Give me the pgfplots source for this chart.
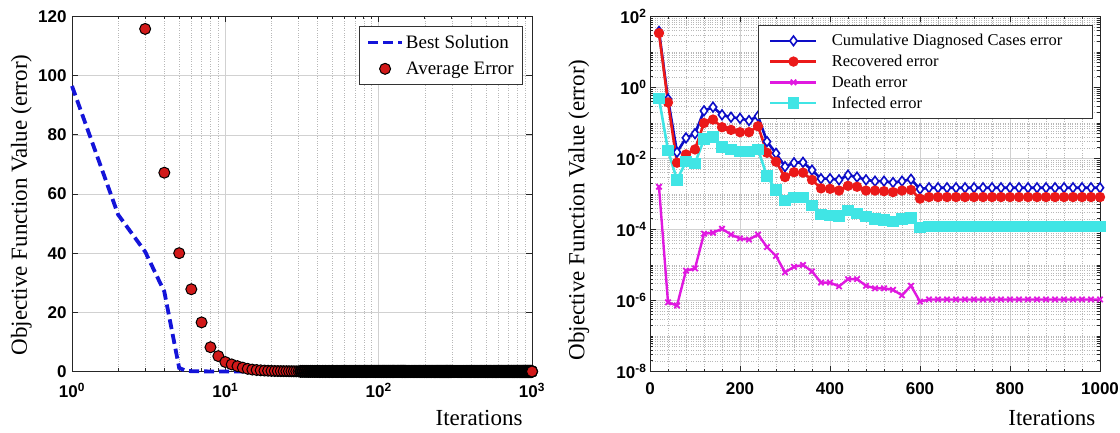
\documentclass[border=0pt]{standalone}
\usepackage{fontspec}
\setmainfont{Liberation Serif}
\newfontfamily\tickfont{Liberation Sans}
\usepackage{pgfplots}
\pgfplotsset{compat=1.18}
\definecolor{lblue}{rgb}{0.08,0.08,0.85}
\definecolor{ldot}{rgb}{0.82,0.1,0.1}
\definecolor{rblue}{rgb}{0.05,0.05,0.78}
\definecolor{rred}{rgb}{0.92,0.1,0.1}
\definecolor{rmag}{rgb}{0.88,0.1,0.88}
\definecolor{rcyan}{rgb}{0.25,0.9,0.9}
\pgfplotsset{
  common/.style={
    scale only axis, anchor=south west, clip=false, scaled ticks=false,
    axis line style={black!85, line width=0.8pt},
    tick style={black!85, line width=0.8pt},
    major tick length=6pt, minor tick length=3pt,
    tick align=inside,
    ticklabel style={font=\tickfont\bfseries\fontsize{17}{17}\selectfont},
    xticklabel style={yshift=-8pt},
    label style={font=\fontsize{23}{26}\selectfont},
    grid=both,
    major grid style={black!18, line width=0.6pt},
    minor grid style={black!28, dotted, line width=0.6pt},
    legend cell align=left,
  }
}
\begin{document}
\begin{tikzpicture}
\path[use as bounding box] (0pt,0pt) rectangle (1120pt,433pt);
\begin{axis}[common, at={(72pt,61.5pt)}, width=460pt, height=355pt,
  xmode=log, xmin=1, xmax=1000, ymin=0, ymax=120,
  xtick={1,10,100,1000},
  xticklabels={10\textsuperscript{0},10\textsuperscript{1},10\textsuperscript{2},10\textsuperscript{3}},
  minor xtick={2,3,4,5,6,7,8,9,20,30,40,50,60,70,80,90,200,300,400,500,600,700,800,900},
  ytick={0,20,40,60,80,100,120},
  yticklabels={0,20,40,60,80,100,120},
  yticklabel style={xshift=-2pt},
  xlabel={Iterations}, ylabel={Objective Function Value (error)},
  xlabel style={at={(axis description cs:0.885,-0.13)}, anchor=center},
  ylabel style={at={(axis description cs:-0.11,0.469)}, anchor=center},
  legend style={at={(0.9807,0.9739)}, anchor=north east, font=\fontsize{19}{22}\selectfont,
    draw=black!80, line width=0.7pt, row sep=8pt, inner xsep=7pt, inner ysep=7pt},
  legend image code/.code={\draw[mark repeat=2,mark phase=2,#1] plot coordinates {(0pt,0pt) (17pt,0pt) (34pt,0pt)};},
]
\addplot[lblue, line width=3.8pt, dash pattern=on 10pt off 5pt] coordinates {(1,96.5)(2,53)(3,40.5)(4,27)(5,1.2)(5.5,0.3)(6,0.1)(8,0.02)(1000,0.01)};
\addlegendentry{Best Solution}
\addplot[only marks, mark=*, mark size=5.5pt, mark options={fill=ldot, draw=black, line width=1pt}] coordinates {
(3,115.8)(4,67.2)(5,40)(6,27.8)(7,16.6)(8,8.2)(9,5.2)(10,3.2)
(11,2.4)(12,1.8)(13,1.3)(14,0.9)(15,0.65)(16,0.5)(17,0.4)(18,0.32)(19,0.26)(20,0.21)
(21,0.17)(22,0.15)(23,0.13)(24,0.11)(25,0.1)(26,0.09)(27,0.08)(28,0.07)(29,0.06)(30,0.055)
};
\addlegendentry{Average Error}
\addplot[forget plot, only marks, mark=*, mark size=5.5pt, mark options={fill=ldot, draw=black, line width=2pt}] coordinates {
(31,0.05)(32,0.048)(33,0.045)(34,0.042)(35,0.04)(36,0.038)(37,0.036)(38,0.034)(39,0.032)(40,0.03)
(41,0.02)(42,0.02)(43,0.02)(44,0.02)(45,0.02)(46,0.02)(47,0.02)(48,0.02)(49,0.02)(50,0.02)
(51,0.02)(52,0.02)(53,0.02)(54,0.02)(55,0.02)(56,0.02)(57,0.02)(58,0.02)(59,0.02)(60,0.02)
(61,0.02)(62,0.02)(63,0.02)(64,0.02)(65,0.02)(66,0.02)(67,0.02)(68,0.02)(69,0.02)(70,0.02)
(71,0.02)(72,0.02)(73,0.02)(74,0.02)(75,0.02)(76,0.02)(77,0.02)(78,0.02)(79,0.02)(80,0.02)
(81,0.02)(82,0.02)(83,0.02)(84,0.02)(85,0.02)(86,0.02)(87,0.02)(88,0.02)(89,0.02)(90,0.02)
(91,0.02)(92,0.02)(93,0.02)(94,0.02)(95,0.02)(96,0.02)(97,0.02)(98,0.02)(99,0.02)(100,0.02)
(101,0.02)(102,0.02)(103,0.02)(104,0.02)(105,0.02)(106,0.02)(107,0.02)(108,0.02)(109,0.02)(110,0.02)
(111,0.02)(112,0.02)(113,0.02)(114,0.02)(115,0.02)(116,0.02)(117,0.02)(118,0.02)(119,0.02)(120,0.02)
(121,0.02)(122,0.02)(123,0.02)(124,0.02)(125,0.02)(126,0.02)(127,0.02)(128,0.02)(129,0.02)(130,0.02)
(131,0.02)(132,0.02)(133,0.02)(134,0.02)(135,0.02)(136,0.02)(137,0.02)(138,0.02)(139,0.02)(140,0.02)
(141,0.02)(142,0.02)(143,0.02)(144,0.02)(145,0.02)(146,0.02)(147,0.02)(148,0.02)(149,0.02)(150,0.02)
(152,0.01)(154,0.01)(156,0.01)(158,0.01)(160,0.01)(162,0.01)(164,0.01)(166,0.01)(168,0.01)(170,0.01)
(172,0.01)(174,0.01)(176,0.01)(178,0.01)(180,0.01)(182,0.01)(184,0.01)(186,0.01)(188,0.01)(190,0.01)
(192,0.01)(194,0.01)(196,0.01)(198,0.01)(200,0.01)(202,0.01)(204,0.01)(206,0.01)(208,0.01)(210,0.01)
(212,0.01)(214,0.01)(216,0.01)(218,0.01)(220,0.01)(222,0.01)(224,0.01)(226,0.01)(228,0.01)(230,0.01)
(232,0.01)(234,0.01)(236,0.01)(238,0.01)(240,0.01)(242,0.01)(244,0.01)(246,0.01)(248,0.01)(250,0.01)
(252,0.01)(254,0.01)(256,0.01)(258,0.01)(260,0.01)(262,0.01)(264,0.01)(266,0.01)(268,0.01)(270,0.01)
(272,0.01)(274,0.01)(276,0.01)(278,0.01)(280,0.01)(282,0.01)(284,0.01)(286,0.01)(288,0.01)(290,0.01)
(292,0.01)(294,0.01)(296,0.01)(298,0.01)(300,0.01)
(305,0.01)(310,0.01)(315,0.01)(320,0.01)(325,0.01)(330,0.01)(335,0.01)(340,0.01)(345,0.01)(350,0.01)
(355,0.01)(360,0.01)(365,0.01)(370,0.01)(375,0.01)(380,0.01)(385,0.01)(390,0.01)(395,0.01)(400,0.01)
(405,0.01)(410,0.01)(415,0.01)(420,0.01)(425,0.01)(430,0.01)(435,0.01)(440,0.01)(445,0.01)(450,0.01)
(455,0.01)(460,0.01)(465,0.01)(470,0.01)(475,0.01)(480,0.01)(485,0.01)(490,0.01)(495,0.01)(500,0.01)
(505,0.01)(510,0.01)(515,0.01)(520,0.01)(525,0.01)(530,0.01)(535,0.01)(540,0.01)(545,0.01)(550,0.01)
(555,0.01)(560,0.01)(565,0.01)(570,0.01)(575,0.01)(580,0.01)(585,0.01)(590,0.01)(595,0.01)(600,0.01)
(605,0.01)(610,0.01)(615,0.01)(620,0.01)(625,0.01)(630,0.01)(635,0.01)(640,0.01)(645,0.01)(650,0.01)
(655,0.01)(660,0.01)(665,0.01)(670,0.01)(675,0.01)(680,0.01)(685,0.01)(690,0.01)(695,0.01)(700,0.01)
(705,0.01)(710,0.01)(715,0.01)(720,0.01)(725,0.01)(730,0.01)(735,0.01)(740,0.01)(745,0.01)(750,0.01)
(755,0.01)(760,0.01)(765,0.01)(770,0.01)(775,0.01)(780,0.01)(785,0.01)(790,0.01)(795,0.01)(800,0.01)
(805,0.01)(810,0.01)(815,0.01)(820,0.01)(825,0.01)(830,0.01)(835,0.01)(840,0.01)(845,0.01)(850,0.01)
(855,0.01)(860,0.01)(865,0.01)(870,0.01)(875,0.01)(880,0.01)(885,0.01)(890,0.01)(895,0.01)(900,0.01)
(905,0.01)(910,0.01)(915,0.01)(920,0.01)(925,0.01)(930,0.01)(935,0.01)(940,0.01)(945,0.01)(950,0.01)
(955,0.01)(960,0.01)(965,0.01)(970,0.01)(975,0.01)(980,0.01)(985,0.01)(990,0.01)(995,0.01)
};
\addplot[forget plot, only marks, mark=*, mark size=5.5pt, mark options={fill=ldot, draw=black, line width=1pt}] coordinates {(1000,0.01)};
\end{axis}

\begin{axis}[common, at={(650pt,61.5pt)}, width=450pt, height=355pt,
  ymode=log, xmin=0, xmax=1000, ymin=1e-8, ymax=1e2,
  xtick={0,200,400,600,800,1000}, xticklabels={0,200,400,600,800,1000},
  minor x tick num=4,
  ytick={1e-8,1e-6,1e-4,1e-2,1,100},
  yticklabels={10\textsuperscript{-8},10\textsuperscript{-6},10\textsuperscript{-4},10\textsuperscript{-2},10\textsuperscript{0},10\textsuperscript{2}},
  minor ytick={2e-8,3e-8,4e-8,5e-8,6e-8,7e-8,8e-8,9e-8,1e-7,2e-7,3e-7,4e-7,5e-7,6e-7,7e-7,8e-7,9e-7,
    2e-6,3e-6,4e-6,5e-6,6e-6,7e-6,8e-6,9e-6,1e-5,2e-5,3e-5,4e-5,5e-5,6e-5,7e-5,8e-5,9e-5,
    2e-4,3e-4,4e-4,5e-4,6e-4,7e-4,8e-4,9e-4,1e-3,2e-3,3e-3,4e-3,5e-3,6e-3,7e-3,8e-3,9e-3,
    0.02,0.03,0.04,0.05,0.06,0.07,0.08,0.09,0.1,0.2,0.3,0.4,0.5,0.6,0.7,0.8,0.9,
    2,3,4,5,6,7,8,9,10,20,30,40,50,60,70,80,90},
  xlabel={Iterations}, ylabel={Objective Function Value (error)},
  xlabel style={at={(axis description cs:0.893,-0.13)}, anchor=center},
  ylabel style={at={(axis description cs:-0.158,0.455)}, anchor=center},
  legend style={at={(0.9836,0.976)}, anchor=north east, font=\fontsize{16.5}{19}\selectfont,
    draw=black!80, line width=0.7pt, row sep=3.8pt, column sep=12pt, inner xsep=11pt, inner ysep=7pt},
  legend image code/.code={\draw[mark repeat=2,mark phase=2,#1] plot coordinates {(0pt,0pt) (23pt,0pt) (46pt,0pt)};},
]
\addplot[rblue, line width=2.6pt, mark=diamond*, mark size=4.8pt, mark options={solid, fill=white, draw=rblue, line width=1.6pt}] coordinates {
(20,38)(40,0.47)(60,0.015)(80,0.038)(100,0.05)(120,0.22)(140,0.28)(160,0.17)(180,0.145)(200,0.135)
(220,0.117)(240,0.155)(260,0.03)(280,0.014)(300,0.0059)(320,0.0076)(340,0.0078)(360,0.0047)(380,0.0027)(400,0.0027)
(420,0.0025)(440,0.0034)(460,0.003)(480,0.0025)(500,0.0023)(520,0.0023)(540,0.0021)(560,0.0023)(580,0.0026)(600,0.00138)
(620,0.0015)(640,0.0015)(660,0.0015)(680,0.0015)(700,0.0015)(720,0.0015)(740,0.0015)(760,0.0015)(780,0.0015)(800,0.0015)
(820,0.0015)(840,0.0015)(860,0.0015)(880,0.0015)(900,0.0015)(920,0.0015)(940,0.0015)(960,0.0015)(980,0.0015)(1000,0.0015)
};
\addlegendentry{Cumulative Diagnosed Cases error\hspace*{17pt}}
\addplot[rred, line width=2.6pt, mark=*, mark size=3.8pt, mark options={solid, fill=rred, draw=rred}] coordinates {
(20,34)(40,0.38)(60,0.0076)(80,0.013)(100,0.018)(120,0.1)(140,0.125)(160,0.076)(180,0.064)(200,0.055)
(220,0.055)(240,0.081)(260,0.0145)(280,0.0081)(300,0.003)(320,0.0041)(340,0.004)(360,0.0025)(380,0.00144)(400,0.0014)
(420,0.00125)(440,0.0017)(460,0.0016)(480,0.00125)(500,0.00125)(520,0.0012)(540,0.00113)(560,0.00125)(580,0.0013)(600,0.00074)
(620,0.00082)(640,0.00082)(660,0.00082)(680,0.00082)(700,0.00082)(720,0.00082)(740,0.00082)(760,0.00082)(780,0.00082)(800,0.00082)
(820,0.00082)(840,0.00082)(860,0.00082)(880,0.00082)(900,0.00082)(920,0.00082)(940,0.00082)(960,0.00082)(980,0.00082)(1000,0.00082)
};
\addlegendentry{Recovered error}
\addplot[rmag, line width=2.4pt, mark=x, mark size=3.8pt, mark options={solid, line width=1.8pt}] coordinates {
(20,0.0016)(40,8.9e-7)(60,7.2e-7)(80,6.9e-6)(100,8e-6)(120,7.6e-5)(140,8.1e-5)(160,1.05e-4)(180,7.2e-5)(200,5.6e-5)
(220,5.2e-5)(240,7.2e-5)(260,3.2e-5)(280,1.8e-5)(300,6.2e-6)(320,8.9e-6)(340,1e-5)(360,6.6e-6)(380,3.2e-6)(400,3.2e-6)
(420,2.5e-6)(440,4e-6)(460,4e-6)(480,2.6e-6)(500,2.2e-6)(520,2.2e-6)(540,2e-6)(560,1.4e-6)(580,2.6e-6)(600,9.3e-7)
(620,1.07e-6)(640,1.07e-6)(660,1.07e-6)(680,1.07e-6)(700,1.07e-6)(720,1.07e-6)(740,1.07e-6)(760,1.07e-6)(780,1.07e-6)(800,1.07e-6)
(820,1.07e-6)(840,1.07e-6)(860,1.07e-6)(880,1.07e-6)(900,1.07e-6)(920,1.07e-6)(940,1.07e-6)(960,1.07e-6)(980,1.07e-6)(1000,1.07e-6)
};
\addlegendentry{Death error}
\addplot[rcyan, line width=2.6pt, mark=square*, mark size=4.4pt, mark options={solid, fill=rcyan, draw=rcyan}] coordinates {
(20,0.49)(40,0.017)(60,0.0025)(80,0.0081)(100,0.0073)(120,0.035)(140,0.04)(160,0.021)(180,0.018)(200,0.016)
(220,0.0155)(240,0.018)(260,0.0032)(280,0.0013)(300,0.00066)(320,0.0008)(340,0.0008)(360,0.00048)(380,0.00026)(400,0.00025)
(420,0.00024)(440,0.00034)(460,0.00028)(480,0.00023)(500,0.0002)(520,0.000185)(540,0.00017)(560,0.0002)(580,0.00021)(600,0.000112)
(620,0.00012)(640,0.00012)(660,0.00012)(680,0.00012)(700,0.00012)(720,0.00012)(740,0.00012)(760,0.00012)(780,0.00012)(800,0.00012)
(820,0.00012)(840,0.00012)(860,0.00012)(880,0.00012)(900,0.00012)(920,0.00012)(940,0.00012)(960,0.00012)(980,0.00012)(1000,0.00012)
};
\addlegendentry{Infected error}
\end{axis}
\end{tikzpicture}
\end{document}
